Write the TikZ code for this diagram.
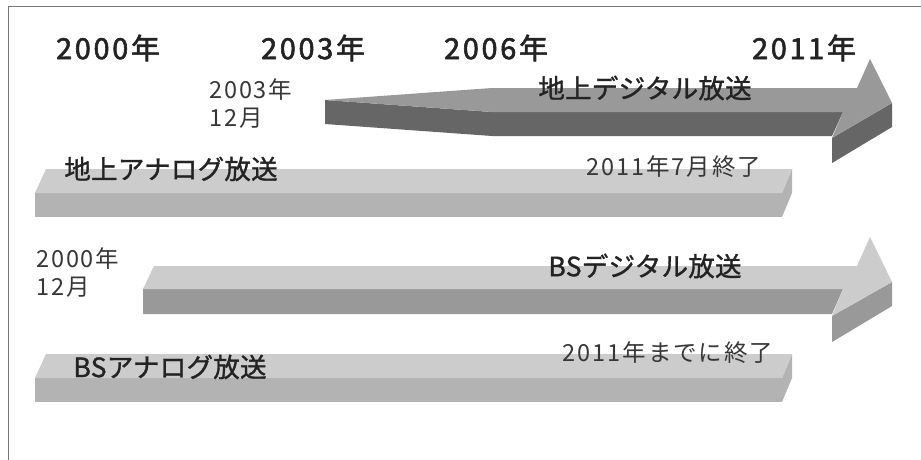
\documentclass[tikz,border=0pt]{standalone}
\usepackage{fontspec}
\setmainfont{Noto Sans CJK JP}
\newfontfamily\jpnote{Noto Sans CJK JP}[LetterSpace=8]
\newfontfamily\jpmed{Noto Sans CJK JP}[FakeBold=1.2,LetterSpace=1]
\newfontfamily\jpyear{Noto Sans CJK JP}[FakeBold=2,LetterSpace=9]

\definecolor{framegray}{RGB}{120,120,120}
\definecolor{inkgray}{RGB}{35,35,35}
\definecolor{notegray}{RGB}{55,55,55}
\definecolor{analogtop}{RGB}{204,204,204}
\definecolor{analogfront}{RGB}{179,179,179}
\definecolor{bstop}{RGB}{204,204,204}
\definecolor{bsfront}{RGB}{153,153,153}
\definecolor{digtop}{RGB}{153,153,153}
\definecolor{digfront}{RGB}{102,102,102}

\tikzset{
    year/.style={font=\jpyear\fontsize{29}{30}\selectfont,text=inkgray,inner sep=0pt},
    bandlabel/.style={font=\jpmed\fontsize{26.5}{28}\selectfont,text=inkgray,inner sep=0pt},
    datenote/.style={font=\jpnote\fontsize{23.5}{28}\selectfont,text=notegray,inner sep=0pt,align=left}
}

\begin{document}
\begin{tikzpicture}[x=1pt,y=-1pt,line cap=round,line join=round]
        \useasboundingbox (0,0) rectangle (921,460);
        \fill[white] (0,0) rectangle (921,460);

        % frame
        \draw[framegray,line width=1pt] (921,7) -- (8,7) -- (8,460);

        % terrestrial digital arrow
        \fill[digfront] (325,100) -- (492,112) -- (843,112) -- (832,136)
            -- (492,136) -- (325,124) -- cycle;
        \fill[digfront] (832,138) -- (892,103) -- (892,127) -- (832,163) -- cycle;
        \fill[digtop] (325,100) -- (492,88) -- (857,88) -- (870,59) -- (892,103)
            -- (832,138) -- (843,112) -- (492,112) -- cycle;

        % terrestrial analog bar
        \fill[analogfront] (35,193) rectangle (782,217);
        \fill[analogfront] (782,193) -- (792,169) -- (792,193) -- (782,217) -- cycle;
        \fill[analogtop] (46,169) -- (792,169) -- (782,193) -- (35,193) -- cycle;

        % BS digital arrow
        \fill[bsfront] (143,289) -- (843,289) -- (832,314) -- (143,314) -- cycle;
        \fill[bsfront] (832,316) -- (892,282) -- (892,306) -- (832,342) -- cycle;
        \fill[bstop] (154,266) -- (857,266) -- (870,237) -- (892,282)
            -- (832,316) -- (843,289) -- (143,289) -- cycle;

        % BS analog bar
        \fill[analogfront] (35,378) rectangle (782,402);
        \fill[analogfront] (782,378) -- (792,354) -- (792,378) -- (782,402) -- cycle;
        \fill[analogtop] (46,354) -- (792,354) -- (782,378) -- (35,378) -- cycle;

        % years
        \node[year] (y2000) at (108,48) {2000年};
        \node[year] (y2003) at (313,48) {2003年};
        \node[year] (y2006) at (496,48) {2006年};
        \node[year] (y2011) at (804,48) {2011年};

        % labels
        \node[bandlabel] (tdig) at (645,88) {地上デジタル放送};
        \node[bandlabel] (tana) at (171,169) {地上アナログ放送};
        \node[bandlabel] (bsdig) at (645,266) {BSデジタル放送};
        \node[bandlabel] (bsana) at (170,367) {BSアナログ放送};

        % dates
        \node[datenote,anchor=west] (tstart) at (209,104) {2003年\\12月};
        \node[datenote,anchor=west] (bsstart) at (36,273) {2000年\\12月};
        \node[datenote] (tend) at (674,167) {2011年7月終了};
        \node[datenote] (bsend) at (668,353) {2011年までに終了};
    \end{tikzpicture}
\end{document}
